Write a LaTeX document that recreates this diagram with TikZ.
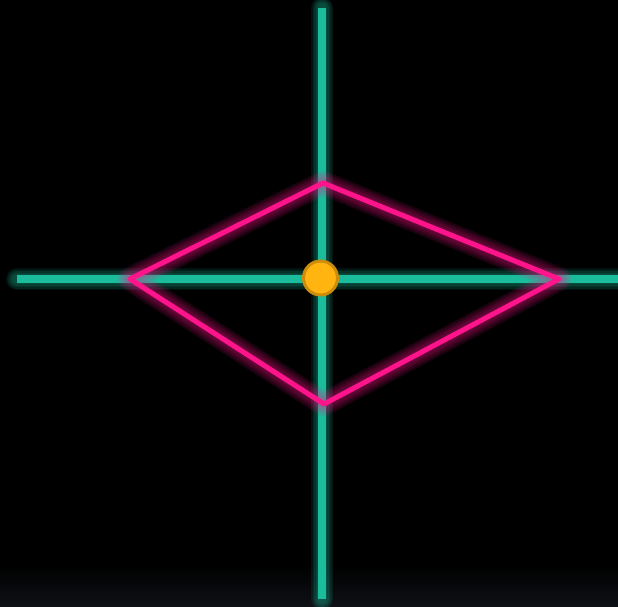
\documentclass[tikz,border=0pt]{standalone}
\usepackage{tikz}

\definecolor{neonteal}{RGB}{26,188,156}
\definecolor{neonpink}{RGB}{255,20,140}
\definecolor{hubgold}{RGB}{255,180,15}
\definecolor{hubrim}{RGB}{205,140,10}
\definecolor{floorgray}{RGB}{14,17,22}

\tikzset{
  axisglow/.style={neonteal,line width=#1,opacity=.1,line cap=round},
  axisline/.style={neonteal,line width=8pt},
  rhombglow/.style={neonpink,line width=#1,opacity=.1,line join=round},
  rhombline/.style={neonpink,line width=5pt,line join=round}
}

\begin{document}
\begin{tikzpicture}[x=1pt,y=-1pt]
\useasboundingbox (0,0) rectangle (618,607);
\fill[black] (0,0) rectangle (618,607);
\shade[top color=black,bottom color=floorgray] (0,565) rectangle (618,607);
% axes
\coordinate (n) at (322,8);
\coordinate (s) at (322,599);
\coordinate (w) at (17,279);
\coordinate (e) at (618,279);
\foreach \w in {22,19,16,13,10}
  \draw[axisglow=\w pt] (n)--(s) (w)--(e);
\draw[axisline] (n)--(s) (w)--(e);
% rhombus
\coordinate (top) at (323,183);
\coordinate (right) at (559,279);
\coordinate (bottom) at (324,404);
\coordinate (left) at (130,279);
\foreach \w in {24,20,16,12,8}
  \draw[rhombglow=\w pt] (top)--(right)--(bottom)--(left)--cycle;
\draw[rhombline] (top)--(right)--(bottom)--(left)--cycle;
% centre
\node[circle,fill=hubgold,draw=hubrim,line width=3pt,minimum size=34pt,inner sep=0pt] (hub) at (320.5,278) {};
\end{tikzpicture}
\end{document}
